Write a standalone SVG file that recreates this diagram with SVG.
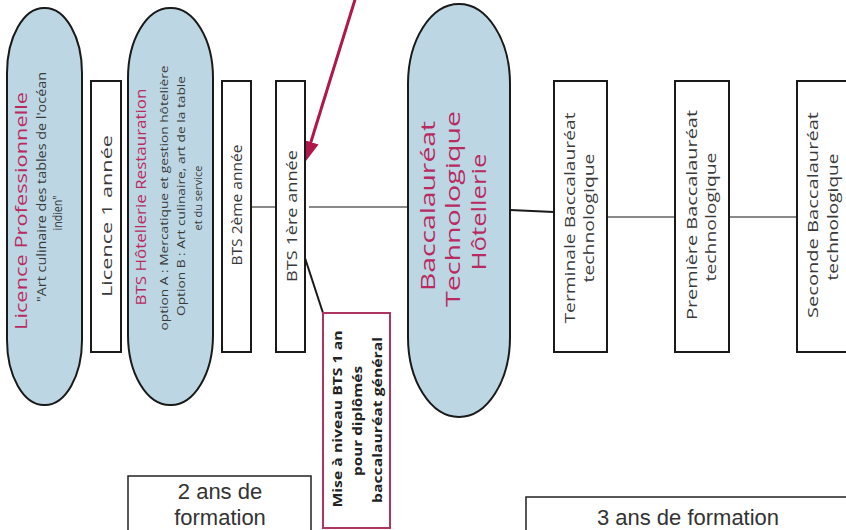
<svg xmlns="http://www.w3.org/2000/svg" width="846" height="530" viewBox="0 0 846 530">
<style>
.pill{fill:#bcd7e3;stroke:#1a1a1a;stroke-width:2}
.box{fill:#fff;stroke:#1a1a1a;stroke-width:2}
.t{font-family:"Open Sans","DejaVu Sans",sans-serif;fill:#3a3a3a;text-anchor:middle}
.pk{fill:#b82a60}
.b{font-weight:bold;fill:#222}
.gray{stroke:#8a8a8a;stroke-width:2;fill:none}
.blk{stroke:#1a1a1a;stroke-width:2;fill:none}
.bot{font-family:"Liberation Sans",Arial,sans-serif;fill:#333;font-size:22px;text-anchor:middle}
</style>
<defs>
<marker id="ah" viewBox="0 0 22 16" markerWidth="22" markerHeight="16" refX="1" refY="8" orient="auto" markerUnits="userSpaceOnUse">
<path d="M0,0 L22,8 L0,16 z" fill="#b0174a"/>
</marker>
</defs>
<rect width="846" height="530" fill="#fff"/>
<g id="connectors">
<line class="gray" x1="251" y1="207" x2="276" y2="207"/>
<line class="gray" x1="309" y1="207" x2="408" y2="207"/>
<line class="blk" x1="510" y1="210" x2="554" y2="212"/>
<line class="gray" x1="607" y1="217" x2="675" y2="217"/>
<line class="gray" x1="729" y1="217" x2="797" y2="217"/>
<line class="blk" x1="305" y1="258" x2="323" y2="313"/>
<line x1="355.5" y1="-2" x2="310.6" y2="143" stroke="#b0174a" stroke-width="3" marker-end="url(#ah)"/>
</g>
<g id="licence-pro">
<rect class="pill" x="7" y="8" width="75" height="397" rx="37" ry="65"/>
<text class="t pk" font-size="17" transform="translate(27,211) rotate(-90)" textLength="238" lengthAdjust="spacingAndGlyphs">Licence Professionnelle</text>
<text class="t" font-size="12.5" transform="translate(46,187) rotate(-90)" textLength="230" lengthAdjust="spacingAndGlyphs">"Art culinaire des tables de l'océan</text>
<text class="t" font-size="12.5" transform="translate(62,213) rotate(-90)" textLength="35" lengthAdjust="spacingAndGlyphs">indien"</text>
</g>
<g id="licence1">
<rect class="box" x="91" y="81" width="30" height="271"/>
<text class="t" font-size="14.5" transform="translate(112,216) rotate(-90)" textLength="162" lengthAdjust="spacingAndGlyphs">Licence 1 année</text>
</g>
<g id="bts-hr">
<rect class="pill" x="128" y="8" width="85" height="397" rx="42" ry="70"/>
<text class="t pk" font-size="14.5" transform="translate(146,197) rotate(-90)" textLength="217" lengthAdjust="spacingAndGlyphs">BTS Hôtellerie Restauration</text>
<text class="t" font-size="11" transform="translate(168,198) rotate(-90)" textLength="265" lengthAdjust="spacingAndGlyphs">option A : Mercatique et gestion hôtelière</text>
<text class="t" font-size="11" transform="translate(185,196) rotate(-90)" textLength="240" lengthAdjust="spacingAndGlyphs">Option B : Art culinaire, art de la table</text>
<text class="t" font-size="11" transform="translate(202,198) rotate(-90)" textLength="65" lengthAdjust="spacingAndGlyphs">et du service</text>
</g>
<g id="bts2">
<rect class="box" x="222" y="81" width="29" height="271"/>
<text class="t" font-size="14" transform="translate(242,205) rotate(-90)" textLength="121" lengthAdjust="spacingAndGlyphs">BTS 2ème année</text>
</g>
<g id="bts1">
<rect class="box" x="276" y="81" width="29" height="271"/>
<text class="t" font-size="14" transform="translate(297,216) rotate(-90)" textLength="132" lengthAdjust="spacingAndGlyphs">BTS 1ère année</text>
</g>
<g id="mise-niveau">
<rect x="323" y="313" width="67" height="215" fill="#fff" stroke="#b03462" stroke-width="2"/>
<text class="t b" font-size="13" transform="translate(342,419) rotate(-90)" textLength="177" lengthAdjust="spacingAndGlyphs">Mise à niveau BTS 1 an</text>
<text class="t b" font-size="13" transform="translate(362,421) rotate(-90)" textLength="110" lengthAdjust="spacingAndGlyphs">pour diplômés</text>
<text class="t b" font-size="13" transform="translate(382,420) rotate(-90)" textLength="166" lengthAdjust="spacingAndGlyphs">baccalauréat général</text>
</g>
<g id="bac-techno">
<rect class="pill" x="408" y="4" width="102" height="413" rx="51" ry="80"/>
<text class="t pk" font-size="20.5" transform="translate(435,206) rotate(-90)" textLength="170" lengthAdjust="spacingAndGlyphs">Baccalauréat</text>
<text class="t pk" font-size="20.5" transform="translate(460,209) rotate(-90)" textLength="196" lengthAdjust="spacingAndGlyphs">Technologique</text>
<text class="t pk" font-size="20.5" transform="translate(486,212) rotate(-90)" textLength="117" lengthAdjust="spacingAndGlyphs">Hôtellerie</text>
</g>
<g id="terminale">
<rect class="box" x="554" y="81" width="53" height="271"/>
<text class="t" font-size="14.5" transform="translate(575,218) rotate(-90)" textLength="211" lengthAdjust="spacingAndGlyphs">Terminale Baccalauréat</text>
<text class="t" font-size="14.5" transform="translate(594,218) rotate(-90)" textLength="129" lengthAdjust="spacingAndGlyphs">technologique</text>
</g>
<g id="premiere">
<rect class="box" x="675" y="81" width="54" height="271"/>
<text class="t" font-size="14.5" transform="translate(697,215) rotate(-90)" textLength="210" lengthAdjust="spacingAndGlyphs">Première Baccalauréat</text>
<text class="t" font-size="14.5" transform="translate(716,217) rotate(-90)" textLength="129" lengthAdjust="spacingAndGlyphs">technologique</text>
</g>
<g id="seconde">
<rect class="box" x="797" y="81" width="56" height="271"/>
<text class="t" font-size="14.5" transform="translate(818,215) rotate(-90)" textLength="206" lengthAdjust="spacingAndGlyphs">Seconde Baccalauréat</text>
<text class="t" font-size="14.5" transform="translate(838,217) rotate(-90)" textLength="127" lengthAdjust="spacingAndGlyphs">technologique</text>
</g>
<g id="duree-2ans">
<rect x="128" y="476" width="183" height="70" fill="#fff" stroke="#222" stroke-width="1.5"/>
<text class="bot" x="220" y="499">2 ans de</text>
<text class="bot" x="220" y="525">formation</text>
</g>
<g id="duree-3ans">
<rect x="526" y="497" width="330" height="50" fill="#fff" stroke="#222" stroke-width="1.5"/>
<text class="bot" x="688" y="525">3 ans de formation</text>
</g>
</svg>
